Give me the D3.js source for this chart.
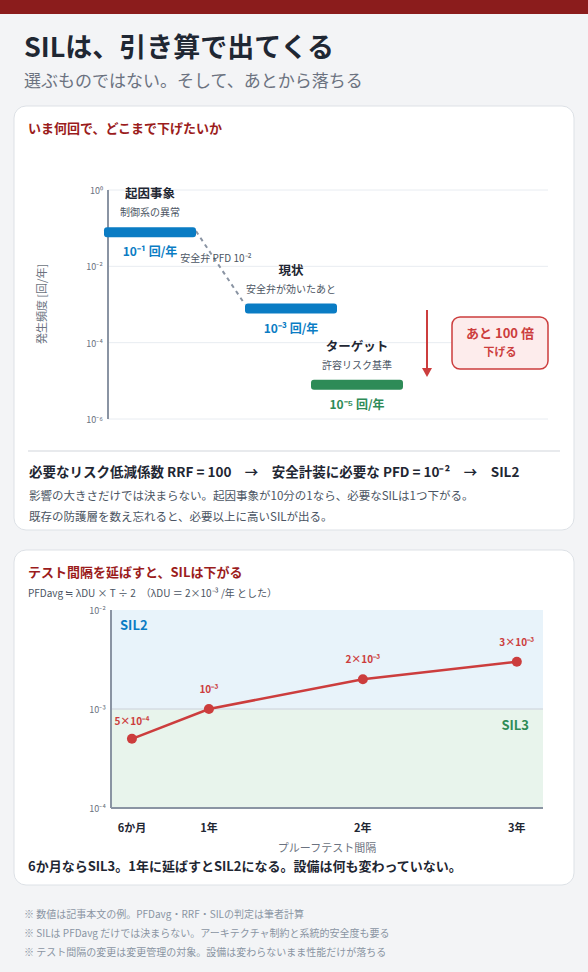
<!DOCTYPE html><html><head><meta charset="utf-8"><script src="https://cdn.jsdelivr.net/npm/d3@7"></script>
<style>body{margin:0;background:#f3f4f6;font-family:"Noto Sans CJK JP","Noto Sans",sans-serif}</style></head><body>
<svg id="c" width="588" height="972"></svg>
<script>
const stages=["起因事象","現状","ターゲット"];
const stageSub=["制御系の異常","安全弁が効いたあと","許容リスク基準"];
const stageFreq=[1e-1,1e-3,1e-5];
const stageLabels=["10⁻¹ 回/年","10⁻³ 回/年","10⁻⁵ 回/年"];
const freqTicks=[1,1e-2,1e-4,1e-6];
const freqTickLabels=["10⁰","10⁻²","10⁻⁴","10⁻⁶"];
const intervals=["6か月","1年","2年","3年"];
const intervalYears=[0.5,1,2,3];
const pfd=[5e-4,1e-3,2e-3,3e-3];
const pfdLabels=["5×10⁻⁴","10⁻³","2×10⁻³","3×10⁻³"];
const pfdTicks=[1e-2,1e-3,1e-4];
const pfdTickLabels=["10⁻²","10⁻³","10⁻⁴"];

const svg=d3.select("#c");
const F='"Noto Sans CJK JP",sans-serif';
svg.append("rect").attr("width",588).attr("height",14).attr("fill","#8b1c1c");
svg.append("text").attr("x",24).attr("y",57).attr("font-size",27).attr("font-weight",700).attr("fill","#1f2733").attr("font-family",F).text("SILは、引き算で出てくる");
svg.append("text").attr("x",24).attr("y",87).attr("font-size",17).attr("fill","#6b7280").attr("font-family",F).text("選ぶものではない。そして、あとから落ちる");
function card(y,h){svg.append("rect").attr("x",14).attr("y",y).attr("width",560).attr("height",h).attr("rx",12).attr("fill","#fff").attr("stroke","#dde1e6");}
card(106,424);card(550,335);
svg.append("text").attr("x",28).attr("y",133).attr("font-size",13).attr("font-weight",700).attr("fill","#9b1c1c").attr("font-family",F).text("いま何回で、どこまで下げたいか");

// chart 1
const y1=d3.scaleLog().domain([1,1e-6]).range([190,419]);
const x1=d3.scaleBand().domain(stages).range([104,494]).paddingInner(-0.18);
const xs=[104,245,311];
const g1=svg.append("g");
freqTicks.forEach((t,i)=>{g1.append("line").attr("x1",108).attr("x2",548).attr("y1",y1(t)).attr("y2",y1(t)).attr("stroke","#e8ecf1");
 g1.append("text").attr("x",103).attr("y",y1(t)+4).attr("text-anchor","end").attr("font-size",9).attr("fill","#6b7280").attr("font-family",F).text(freqTickLabels[i]);});
g1.append("line").attr("x1",108).attr("x2",108).attr("y1",190).attr("y2",419).attr("stroke","#8a94a3").attr("stroke-width",2);
g1.append("text").attr("transform","translate(46,304) rotate(-90)").attr("text-anchor","middle").attr("font-size",11).attr("fill","#6b7280").attr("font-family",F).text("発生頻度 [回/年]");
const bw=92;
g1.append("line").attr("x1",xs[0]+bw).attr("y1",y1(stageFreq[0])+3).attr("x2",xs[1]).attr("y2",y1(stageFreq[1])).attr("stroke","#8a94a3").attr("stroke-width",2).attr("stroke-dasharray","4,4");
g1.append("text").attr("x",216).attr("y",262).attr("text-anchor","middle").attr("font-size",10).attr("fill","#4b5563").attr("font-family",F).text("安全弁 PFD 10⁻²");
stages.forEach((s,i)=>{const c=i<2?"#0a7cc4":"#2e8b57";const yy=y1(stageFreq[i])+4;const cx=xs[i]+bw/2;
 g1.append("rect").attr("x",xs[i]).attr("y",yy-5).attr("width",bw).attr("height",10).attr("rx",3).attr("fill",c);
 g1.append("text").attr("x",cx).attr("y",yy+24).attr("text-anchor","middle").attr("font-size",12).attr("font-weight",700).attr("fill",c).attr("font-family",F).text(stageLabels[i]);
 g1.append("text").attr("x",cx).attr("y",yy-34).attr("text-anchor","middle").attr("font-size",12.5).attr("font-weight",700).attr("fill","#1f2733").attr("font-family",F).text(s);
 g1.append("text").attr("x",cx).attr("y",yy-16).attr("text-anchor","middle").attr("font-size",10).attr("fill","#4b5563").attr("font-family",F).text(stageSub[i]);});
g1.append("line").attr("x1",427).attr("x2",427).attr("y1",310).attr("y2",370).attr("stroke","#cc3d3d").attr("stroke-width",2);
g1.append("path").attr("d","M422,368 L432,368 L427,377 Z").attr("fill","#cc3d3d");
g1.append("rect").attr("x",452).attr("y",317).attr("width",96).attr("height",52).attr("rx",8).attr("fill","#fdecec").attr("stroke","#cc3d3d").attr("stroke-width",1.5);
g1.append("text").attr("x",500).attr("y",338).attr("text-anchor","middle").attr("font-size",13).attr("font-weight",700).attr("fill","#cc3d3d").attr("font-family",F).text("あと 100 倍");
g1.append("text").attr("x",500).attr("y",356).attr("text-anchor","middle").attr("font-size",11).attr("font-weight",700).attr("fill","#cc3d3d").attr("font-family",F).text("下げる");
svg.append("line").attr("x1",28).attr("x2",560).attr("y1",451).attr("y2",451).attr("stroke","#d1d5db");
svg.append("text").attr("x",29).attr("y",477).attr("font-size",13.5).attr("font-weight",700).attr("fill","#1f2733").attr("font-family",F).text("必要なリスク低減係数 RRF = 100　→　安全計装に必要な PFD = 10⁻²　→　SIL2");
svg.append("text").attr("x",29).attr("y",500).attr("font-size",11.5).attr("fill","#4b5563").attr("font-family",F).text("影響の大きさだけでは決まらない。起因事象が10分の1なら、必要なSILは1つ下がる。");
svg.append("text").attr("x",29).attr("y",521).attr("font-size",11.5).attr("fill","#4b5563").attr("font-family",F).text("既存の防護層を数え忘れると、必要以上に高いSILが出る。");

// chart 2
svg.append("text").attr("x",28).attr("y",577).attr("font-size",13).attr("font-weight",700).attr("fill","#9b1c1c").attr("font-family",F).text("テスト間隔を延ばすと、SILは下がる");
svg.append("text").attr("x",28).attr("y",597).attr("font-size",10).attr("fill","#4b5563").attr("font-family",F).text("PFDavg ≒ λDU × T ÷ 2　（λDU ＝ 2×10⁻³ /年 とした）");
const x2=d3.scaleLinear().domain([0.364,3.17]).range([111,543]);
const y2=d3.scaleLog().domain([1e-4,1e-2]).range([808,610]);
svg.append("rect").attr("x",111).attr("y",y2(1e-2)).attr("width",432).attr("height",y2(1e-3)-y2(1e-2)).attr("fill","#e8f3fa");
svg.append("rect").attr("x",111).attr("y",y2(1e-3)).attr("width",432).attr("height",y2(1e-4)-y2(1e-3)).attr("fill","#e8f4ec");
svg.append("line").attr("x1",111).attr("x2",543).attr("y1",y2(1e-3)).attr("y2",y2(1e-3)).attr("stroke","#d6dde3").attr("stroke-width",1.5);
svg.append("line").attr("x1",111).attr("x2",111).attr("y1",610).attr("y2",808).attr("stroke","#8a94a3").attr("stroke-width",2);
svg.append("line").attr("x1",111).attr("x2",543).attr("y1",808).attr("y2",808).attr("stroke","#8a94a3").attr("stroke-width",2);
pfdTicks.forEach((t,i)=>svg.append("text").attr("x",106).attr("y",y2(t)+4).attr("text-anchor","end").attr("font-size",9).attr("fill","#6b7280").attr("font-family",F).text(pfdTickLabels[i]));
svg.append("text").attr("x",120).attr("y",630).attr("font-size",13).attr("font-weight",700).attr("fill","#0a7cc4").attr("font-family",F).text("SIL2");
svg.append("text").attr("x",529).attr("y",730).attr("text-anchor","end").attr("font-size",13).attr("font-weight",700).attr("fill","#2e8b57").attr("font-family",F).text("SIL3");
const pts=intervalYears.map((v,i)=>[x2(v),y2(pfd[i])]);
svg.append("path").attr("d",d3.line()(pts)).attr("fill","none").attr("stroke","#cc3d3d").attr("stroke-width",2.5);
pts.forEach((p,i)=>{svg.append("circle").attr("cx",p[0]).attr("cy",p[1]).attr("r",5).attr("fill","#cc3d3d");
 svg.append("text").attr("x",p[0]).attr("y",p[1]-(i==0?14:16)).attr("text-anchor","middle").attr("font-size",10).attr("font-weight",700).attr("fill","#cc3d3d").attr("font-family",F).text(pfdLabels[i]);
 svg.append("text").attr("x",p[0]).attr("y",832).attr("text-anchor","middle").attr("font-size",11).attr("font-weight",700).attr("fill","#1f2733").attr("font-family",F).text(intervals[i]);});
svg.append("text").attr("x",327).attr("y",852).attr("text-anchor","middle").attr("font-size",11).attr("fill","#6b7280").attr("font-family",F).text("プルーフテスト間隔");
svg.append("text").attr("x",28).attr("y",871).attr("font-size",13).attr("font-weight",700).attr("fill","#1f2733").attr("font-family",F).text("6か月ならSIL3。1年に延ばすとSIL2になる。設備は何も変わっていない。");
["※ 数値は記事本文の例。PFDavg・RRF・SILの判定は筆者計算","※ SILは PFDavg だけでは決まらない。アーキテクチャ制約と系統的安全度も要る","※ テスト間隔の変更は変更管理の対象。設備は変わらないまま性能だけが落ちる"].forEach((t,i)=>
 svg.append("text").attr("x",24).attr("y",918+i*19).attr("font-size",10).attr("fill","#8a94a3").attr("font-family",F).text(t));
</script></body></html>
